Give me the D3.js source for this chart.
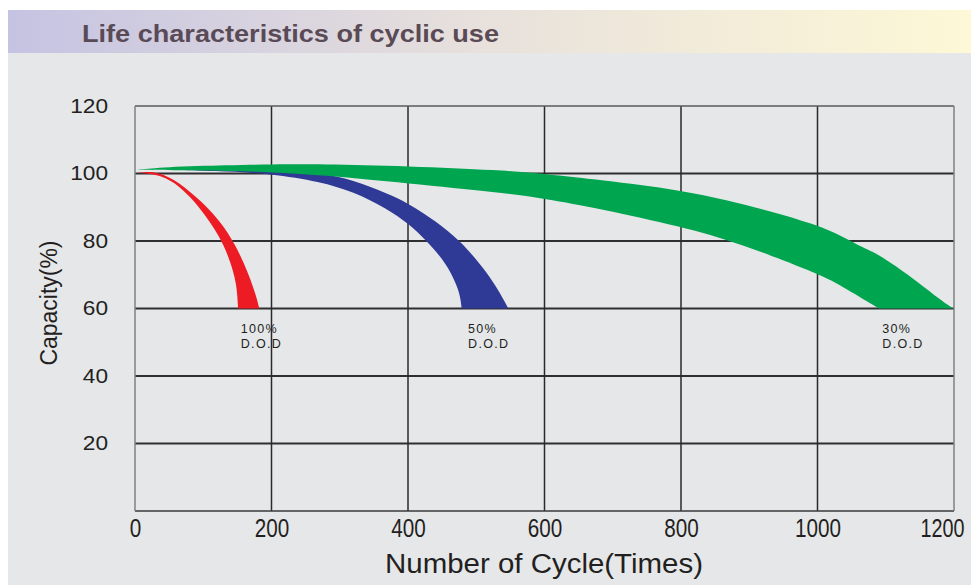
<!DOCTYPE html>
<html><head><meta charset="utf-8">
<script src="https://cdn.jsdelivr.net/npm/d3@7/dist/d3.min.js"></script>
<style>
body{margin:0;background:#fff;}
svg{display:block;}
</style></head>
<body>
<script>
// ---- data ----
const titleText = "Life characteristics of cyclic use";
const xTicks = [0, 200, 400, 600, 800, 1000, 1200];
const yTicks = [20, 40, 60, 80, 100, 120];
const xLabel = "Number of Cycle(Times)";
const yLabel = "Capacity(%)";
const seriesNames = ["100%", "50%", "30%"];
// [cycles, capacity %]
const redUpper = [[5,100.2],[27,100.8],[56,98.6],[90,93.1],[124.5,86.2],[149,78.3],[166,70.4],[178,63.5],[182,60]];
const redLower = [[5,100.2],[27,99.9],[56,98.1],[95,90.2],[124.5,81.3],[139,74.4],[149,67.5],[151,60]];
const blueUpper = [[51,101.1],[200,101.0],[271,100.2],[320,98.1],[369,94.1],[400.5,91.2],[442,85.7],[476,80.1],[500.6,74.4],[520,69.4],[535,64.5],[547,60]];
const blueLower = [[51,101.1],[114,100.8],[200,100.0],[271,97.6],[320,94.6],[369,89.6],[400.5,85.2],[427,80.1],[452,74.4],[466,69.4],[476,64.5],[478.6,60]];
const greenUpper = [[3,101.1],[41,101.9],[139,102.5],[200,102.7],[271,102.8],[400,102.2],[535,101],[600,99.9],[681,98.1],[800,95.1],[886,91.3],[1000,85.0],[1048,80.1],[1074,77.3],[1087,76.3],[1131,70.4],[1180,62.5],[1199,60]];
const greenLower = [[3,101.1],[50,101.0],[139,100.8],[200,100.4],[271,99.6],[400,97.1],[535,94.4],[600,92.6],[681,89.6],[800,84.3],[886,79.3],[1000,70.4],[1033,67],[1090,60]];
const labelPos = [[155,60],[488,60],[1095,60]]; // anchor of DOD labels [cycles, capacity]

// ---- layout ----
const W = 971, H = 585;
const svg = d3.select("body").append("svg").attr("width", W).attr("height", H);
const defs = svg.append("defs");
const grad = defs.append("linearGradient").attr("id","tg").attr("x1","0").attr("x2","1").attr("y1","0").attr("y2","0");
grad.append("stop").attr("offset","0").attr("stop-color","#c5c3e2");
grad.append("stop").attr("offset","0.5").attr("stop-color","#e8e1dc");
grad.append("stop").attr("offset","1").attr("stop-color","#fdf8d6");

svg.append("rect").attr("x",8).attr("y",53).attr("width",W-8).attr("height",H-53).attr("fill","#e6e7e9");
svg.append("rect").attr("x",8).attr("y",10).attr("width",W-8).attr("height",43).attr("fill","url(#tg)");
svg.append("text").attr("x",82).attr("y",41.5).text(titleText)
  .attr("font-family","'Liberation Sans', Arial, sans-serif").attr("font-weight","bold")
  .attr("font-size",24).attr("fill","#594a56")
  .attr("textLength",417).attr("lengthAdjust","spacingAndGlyphs");

const x = d3.scaleLinear().domain([0,1200]).range([135,954]);
const y = d3.scaleLinear().domain([0,120]).range([511,106]);

// grid
const g = svg.append("g");
g.selectAll("line.h").data([20,40,60,80,100]).join("line")
  .attr("x1",x(0)).attr("x2",x(1200)).attr("y1",d=>y(d)).attr("y2",d=>y(d))
  .attr("stroke","#2f2f31").attr("stroke-width",2);
g.selectAll("line.v").data([200,400,600,800,1000]).join("line")
  .attr("y1",y(0)).attr("y2",y(120)).attr("x1",d=>x(d)).attr("x2",d=>x(d))
  .attr("stroke","#2a2a2a").attr("stroke-width",1.5);
g.append("line").attr("x1",x(0)).attr("x2",x(1200)).attr("y1",y(120)).attr("y2",y(120)).attr("stroke","#5a5a5c").attr("stroke-width",1.5);
g.append("line").attr("x1",x(0)).attr("x2",x(1200)).attr("y1",y(0)).attr("y2",y(0)).attr("stroke","#3a3a3c").attr("stroke-width",1.5);
g.append("line").attr("x1",x(0)).attr("x2",x(0)).attr("y1",y(0)).attr("y2",y(120)).attr("stroke","#808083").attr("stroke-width",1.5);
g.append("line").attr("x1",x(1200)).attr("x2",x(1200)).attr("y1",y(0)).attr("y2",y(120)).attr("stroke","#808083").attr("stroke-width",1.5);

// bands
const line = d3.line().x(d=>x(d[0])).y(d=>y(d[1])).curve(d3.curveBasis);
function band(up, lo){
  const a = line(up);
  const b = line(lo.slice().reverse());
  return a + "L" + b.slice(1) + "Z";
}
const bands = [
  {up: blueUpper, lo: blueLower, c: "#2f3a96"},
  {up: greenUpper, lo: greenLower, c: "#00a54f"},
  {up: redUpper, lo: redLower, c: "#ed1c24"}
];
svg.append("g").selectAll("path").data(bands).join("path")
  .attr("d", d=>band(d.up, d.lo)).attr("fill", d=>d.c);

// axes
const ax = svg.append("g").attr("transform",`translate(0,${y(0)})`)
  .call(d3.axisBottom(x).tickValues(xTicks).tickSize(0).tickPadding(8).tickFormat(d3.format("d")));
ax.select(".domain").remove();
ax.selectAll("text").attr("font-family","'Liberation Sans Narrow','Arial Narrow','Liberation Sans',Arial,sans-serif")
  .attr("font-size",25).attr("fill","#231f20")
  .attr("textLength",d=>String(d).length*11.5).attr("lengthAdjust","spacingAndGlyphs");
ax.selectAll("text").filter(d=>d===1200).attr("text-anchor","end").attr("x",10)
  .attr("textLength",44);

const ay = svg.append("g").attr("transform",`translate(${x(0)},0)`)
  .call(d3.axisLeft(y).tickValues(yTicks).tickSize(0).tickPadding(27));
ay.select(".domain").remove();
ay.selectAll("text").attr("font-family","'Liberation Sans',Arial,sans-serif")
  .attr("font-size",20).attr("fill","#231f20")
  .attr("textLength",d=>String(d).length*12.6).attr("lengthAdjust","spacingAndGlyphs");

svg.append("text").attr("x",544).attr("y",573).attr("text-anchor","middle").text(xLabel)
  .attr("font-family","'Liberation Sans Narrow','Arial Narrow','Liberation Sans',Arial,sans-serif")
  .attr("font-size",27).attr("fill","#231f20")
  .attr("textLength",318).attr("lengthAdjust","spacingAndGlyphs");
svg.append("text").attr("transform","translate(57,303) rotate(-90)").attr("text-anchor","middle").text(yLabel)
  .attr("font-family","'Liberation Sans',Arial,sans-serif")
  .attr("font-size",23).attr("fill","#231f20")
  .attr("textLength",125).attr("lengthAdjust","spacingAndGlyphs");

// DOD labels
const lab = svg.append("g").selectAll("g").data(seriesNames).join("g")
  .attr("transform",(d,i)=>`translate(${x(labelPos[i][0])},${y(labelPos[i][1])})`);
lab.append("text").attr("x",0).attr("y",24).text(d=>d)
  .attr("font-family","'Liberation Sans',Arial,sans-serif").attr("font-size",12.5).attr("fill","#231f20")
  .attr("letter-spacing",1.3);
lab.append("text").attr("x",0).attr("y",39).text("D.O.D")
  .attr("font-family","'Liberation Sans',Arial,sans-serif").attr("font-size",12.5).attr("fill","#231f20")
  .attr("letter-spacing",1.3);
</script>
</body></html>
